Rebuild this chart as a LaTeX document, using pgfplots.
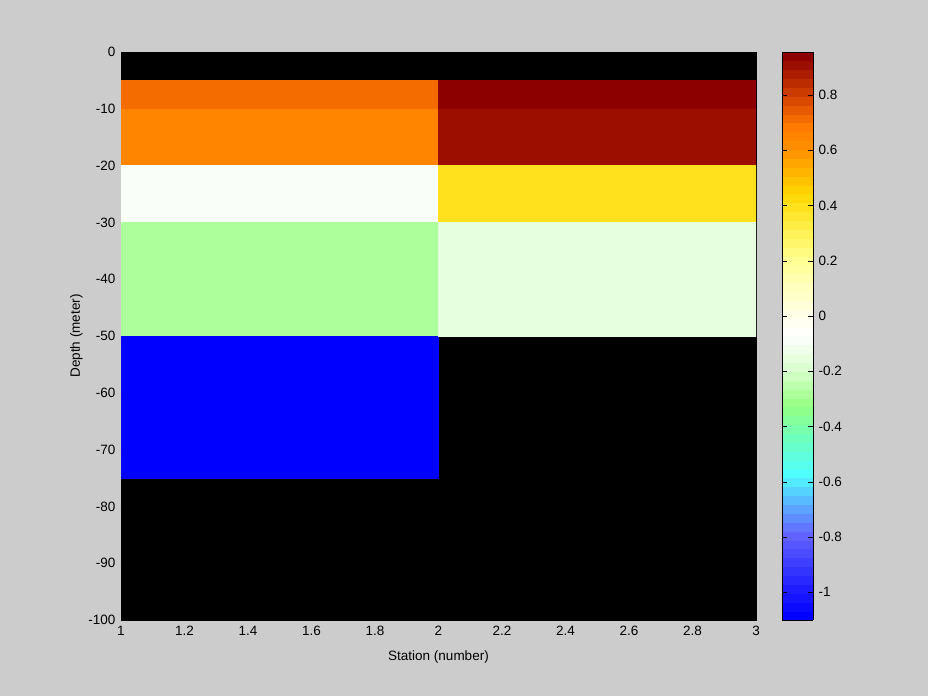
\documentclass[border=0pt]{standalone}
\usepackage{fontspec}
\setmainfont{Liberation Sans}
\usepackage{pgfplots}
\pgfplotsset{compat=1.18}

\definecolor{figbg}{RGB}{204,204,204}

% value v -> position (v+1.1)*10 cm
\pgfplotsset{
  colormap={basemap}{
    rgb255(0cm)=(0,0,255)
    rgb255(1cm)=(30,30,255)
    rgb255(3cm)=(100,100,255)
    rgb255(5.2cm)=(80,255,255)
    rgb255(6.5cm)=(110,255,190)
    rgb255(7.7cm)=(150,255,130)
    rgb255(9cm)=(215,255,205)
    rgb255(10.3cm)=(255,255,255)
    rgb255(11cm)=(255,255,235)
    rgb255(13cm)=(255,255,150)
    rgb255(14.5cm)=(255,235,60)
    rgb255(15.5cm)=(255,215,0)
    rgb255(17cm)=(255,150,0)
    rgb255(18cm)=(255,120,0)
    rgb255(19cm)=(215,70,0)
    rgb255(20.55cm)=(140,0,0)
  },
  colormap={stepmap}{samples of colormap=(64 of basemap)},
}

% cells: x y value (4 corners per cell)
\pgfplotstableread{
x y c
1 -5 0.72
2 -5 0.72
2 -10 0.72
1 -10 0.72
1 -10 0.65
2 -10 0.65
2 -20 0.65
1 -20 0.65
1 -20 -0.1
2 -20 -0.1
2 -30 -0.1
1 -30 -0.1
1 -30 -0.29
2 -30 -0.29
2 -50 -0.29
1 -50 -0.29
1 -50 -1.1
2 -50 -1.1
2 -75 -1.1
1 -75 -1.1
2 -5 0.955
3 -5 0.955
3 -10 0.955
2 -10 0.955
2 -10 0.91
3 -10 0.91
3 -20 0.91
2 -20 0.91
2 -20 0.4
3 -20 0.4
3 -30 0.4
2 -30 0.4
2 -30 -0.16
3 -30 -0.16
3 -50 -0.16
2 -50 -0.16
}\cells

\begin{document}
\begin{tikzpicture}[font=\fontsize{13.5}{16}\selectfont]
\fill[figbg] (-121pt,-76pt) rectangle (807pt,620pt);
\begin{axis}[
  at={(0,0)}, anchor=south west,
  scale only axis,
  width=635pt, height=568pt,
  xmin=1, xmax=3, ymin=-100, ymax=0,
  xtick={1,1.2,1.4,1.6,1.8,2,2.2,2.4,2.6,2.8,3},
  ytick={-100,-90,-80,-70,-60,-50,-40,-30,-20,-10,0},
  /pgf/number format/assume math mode=true,
  xticklabel style={/pgf/number format/fixed, yshift=-3pt},
  yticklabel style={xshift=-2pt},
  xlabel={Station (number)},
  ylabel={Depth (meter)},
  xlabel style={yshift=-8pt},
  ylabel style={yshift=-1pt},
  axis background/.style={fill=black},
  axis line style={black},
  tick style={black},
  major tick length=5pt,
  colormap name=stepmap,
  colormap access=piecewise constant,
  point meta min=-1.1, point meta max=0.955,
  colorbar,
  colorbar shift/.style={xshift=19pt},
  colorbar style={
    width=31pt,
    ytick={-1,-0.8,-0.6,-0.4,-0.2,0,0.2,0.4,0.6,0.8},
    yticklabel pos=right,
    yticklabel style={/pgf/number format/fixed, /pgf/number format/assume math mode=true, xshift=2pt},
    major tick length=5pt,
    tick style={black},
    ytick pos=both,
  },
]
\addplot[patch, patch type=rectangle, shader=flat, point meta=explicit]
  table[x=x, y=y, meta=c] {\cells};
\end{axis}
\pgfresetboundingbox
\path[use as bounding box] (-121pt,-76pt) rectangle (807pt,620pt);
\end{tikzpicture}
\end{document}
